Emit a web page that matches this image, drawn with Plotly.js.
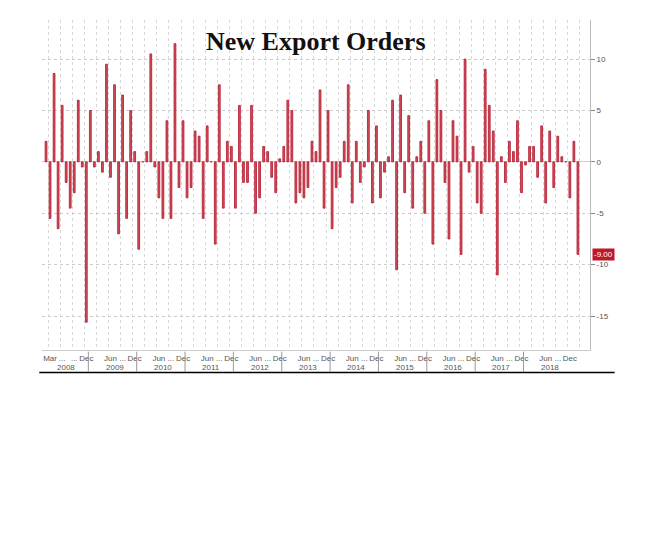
<!DOCTYPE html>
<html><head><meta charset="utf-8">
<script src="https://cdn.plot.ly/plotly-3.0.1.min.js"></script>
<style>body{margin:0;background:#fff}#c{width:670px;height:538px}</style>
</head><body><div id="c"></div>
<script>
// monthly change, Feb 2008 onward
var values = [2,-5.5,8.6,-6.5,5.5,-2,-4.5,-3,6,-0.5,-15.6,5,-0.5,1,-1,9.5,-1.5,7.5,-7,6.5,-5.5,5,1,-8.5,
  0,1,10.5,-0.5,-3.5,-5.5,4,-5.5,11.5,-2.5,4,-3.5,-2.5,3,2.5,-5.5,3.5,0,-8,7.5,-4.5,2,
  1.5,-4.5,5.5,-2,-2,5.5,-5,-3.5,1.5,1,-1.5,-3,0.3,1.5,6,5,-4,-3,-3.5,-2.5,2,1,7,-4.5,
  5,-6.5,-2.5,-1.5,2,7.5,-4,2,-2,-0.5,5,-4,3.5,-3.5,-1,0.5,6,-10.5,6.5,-3,4.5,-4.5,0.5,2,
  -5,4,-8,8,5,-2,-7.5,4,2.5,-9,10,-1,1.5,-4,-5,9,5.5,3,-11,0.5,-2,2,1,4,
  -3,-0.3,1.5,1.5,-1.5,3.5,-4,3,-2.5,2.5,0.5,0,-3.5,2,-9];
var years = [2008,2009,2010,2011,2012,2013,2014,2015,2016,2017,2018];
var lastLabel = '-9.00';

var xs = values.map(function(v,i){return i;});
// month index helper: 0 = Feb 2008
function idx(year, month){ return (year-2008)*12 + (month-2); }

var tickvals = [idx(2008,3), idx(2008,6), idx(2008,9), idx(2008,12)];
var ticktext = ['Mar','...','...','Dec'];
years.slice(1).forEach(function(y){
  tickvals.push(idx(y,6), idx(y,9), idx(y,12));
  ticktext.push('Jun','...','Dec');
});

var annotations = years.map(function(y){
  return {x: idx(y,7), y: 0, xref:'x', yref:'paper', yshift:-11, yanchor:'top',
    text: String(y), showarrow:false, font:{size:8, color:'#555', family:'Liberation Sans'}};
});
annotations.push({x:1, xref:'paper', xanchor:'left', y:values[values.length-1], yref:'y',
  text:lastLabel, showarrow:false, bgcolor:'#c0182a', font:{size:8,color:'#fff',family:'Liberation Sans'},
  borderpad:1, xshift:2});
annotations.push({x:0.5, xref:'paper', y:0.985, yref:'paper', yanchor:'top', text:'<b>New Export Orders</b>',
  showarrow:false, font:{size:26, family:'Liberation Serif', color:'#111'}});

var shapes = years.slice(1).map(function(y){
  return {type:'line', xref:'x', yref:'paper', x0:idx(y,1)-0.5, x1:idx(y,1)-0.5, y0:-0.005, y1:-0.065,
    line:{color:'#999', width:1}};
});
shapes.push({type:'line', xref:'paper', yref:'paper', x0:-0.005, x1:1.045, y0:-0.068, y1:-0.068, line:{color:'#000', width:1.5}});

Plotly.newPlot('c', [{
  type:'bar', x:xs, y:values,
  marker:{color:'#d0505c', line:{color:'#b3142a', width:0.8}},
  width:0.45
}], {
  width:670, height:538, showlegend:false,
  margin:{l:42, r:80, t:20, b:188},
  paper_bgcolor:'#fff', plot_bgcolor:'#fff',
  xaxis:{range:[-1, values.length+2], tickvals:tickvals, ticktext:ticktext, tickangle:0,
    showgrid:false, zeroline:false, ticks:'', tickfont:{size:8, color:'#555', family:'Liberation Sans'},
    minor:{dtick:3, tick0:0.5, showgrid:true, gridcolor:'#d8d8d8', griddash:'dot', gridwidth:1},
    showline:true, linecolor:'#ccc'},
  yaxis:{side:'right', range:[-18.3, 13.8], tickvals:[10,5,0,-5,-10,-15], ticktext:['10','5','0','-5','-10','-15'],
    showgrid:true, gridcolor:'#ccc', griddash:'dot', zeroline:true, zerolinecolor:'#ccc', zerolinewidth:1,
    ticks:'outside', ticklen:4, tickcolor:'#888', showline:true, linecolor:'#bbb',
    tickfont:{size:8, color:'#555', family:'Liberation Sans'}},
  annotations:annotations, shapes:shapes
}, {staticPlot:true});
</script></body></html>
